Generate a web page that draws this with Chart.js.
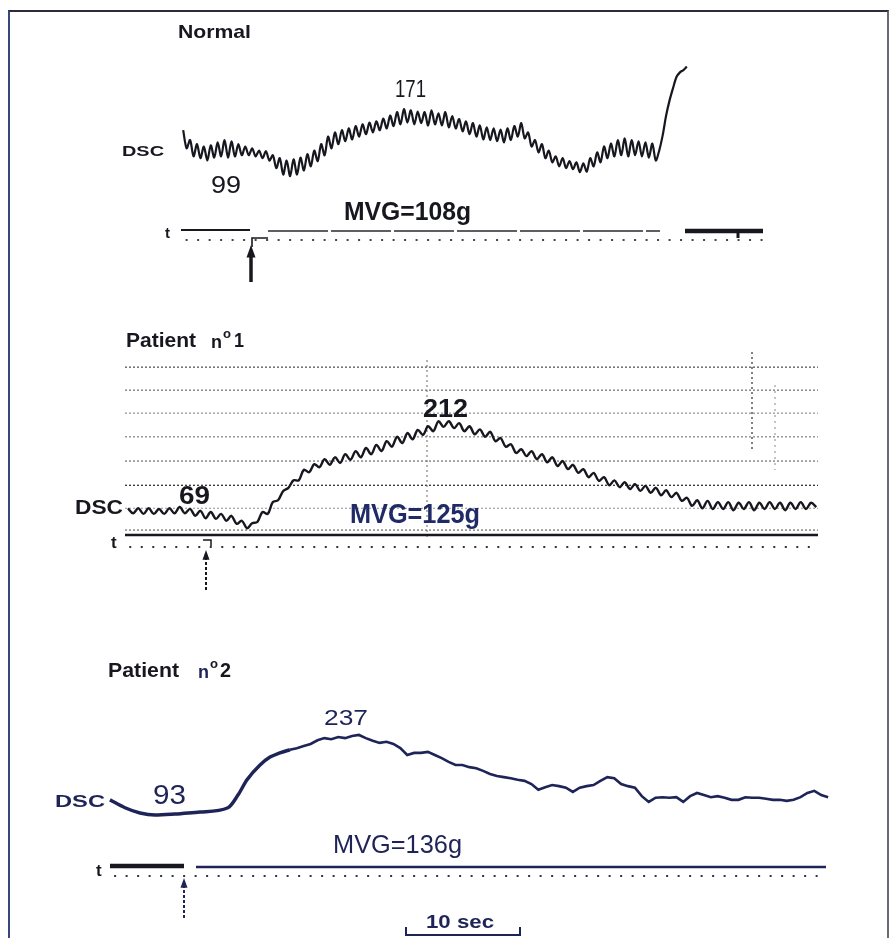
<!DOCTYPE html>
<html>
<head>
<meta charset="utf-8">
<script src="https://cdn.jsdelivr.net/npm/chart.js@4.4.1/dist/chart.umd.min.js"></script>
<style>
  body { margin: 0; background: #fff; width: 890px; height: 938px; position: relative; overflow: hidden; }
  canvas { position: absolute; left: 0; }
  #frame { position: absolute; left: 8px; top: 10px; width: 877px; height: 960px;
           border-top: 2px solid #2b2c40; border-left: 2px solid #3a4680; border-right: 2px solid #6a6a70; }
</style>
</head>
<body>
<div id="frame"></div>
<canvas id="normal" width="890" height="300" style="top:0px"></canvas>
<canvas id="patient1" width="890" height="320" style="top:300px"></canvas>
<canvas id="patient2" width="890" height="318" style="top:620px"></canvas>
<script>
// DSC precordial counts, sampled at a fixed step (seconds from injection)
const normalStart = -5.9;
const normalStep = 0.3;
const normalDSC = [
  137, 106, 120, 92, 113, 89, 109, 85, 111, 90,
  116, 92, 120, 90, 118, 92, 113, 94, 109, 94,
  106, 92, 102, 89, 101, 85, 94, 72, 89, 61,
  85, 58, 87, 61, 90, 68, 96, 75, 102, 84,
  113, 94, 126, 106, 133, 113, 137, 118, 140, 121,
  144, 126, 147, 130, 150, 133, 152, 137, 157, 140,
  162, 144, 168, 147, 173, 150, 171, 147, 169, 149,
  168, 145, 171, 147, 166, 145, 168, 142, 161, 140,
  156, 135, 152, 130, 149, 126, 145, 121, 142, 120,
  140, 118, 138, 116, 140, 120, 144, 126, 149, 123,
  133, 109, 120, 99, 113, 89, 102, 82, 92, 75,
  89, 72, 84, 70, 82, 65, 80, 66, 89, 75,
  99, 82, 109, 89, 114, 92, 120, 94, 123, 92,
  120, 94, 118, 92, 116, 90, 114, 85, 102, 128,
  162, 188, 209, 228, 236, 240, 246
];

const p1Start = -6.7;
const p1Step = 0.45;
const p1DSC = [
  75, 67, 75, 66, 75, 66, 74, 66, 75, 67,
  77, 67, 74, 63, 71, 59, 69, 58, 66, 55,
  63, 50, 55, 43, 51, 53, 69, 66, 85, 88,
  103, 108, 120, 120, 137, 133, 146, 141, 154, 145,
  157, 148, 162, 153, 167, 157, 172, 162, 177, 167,
  183, 174, 190, 180, 196, 186, 201, 193, 207, 199,
  215, 206, 215, 204, 212, 199, 207, 194, 202, 190,
  198, 183, 188, 174, 178, 164, 170, 159, 167, 154,
  162, 149, 157, 143, 151, 138, 145, 132, 138, 125,
  132, 119, 125, 112, 120, 109, 117, 106, 114, 103,
  111, 100, 108, 96, 104, 93, 100, 87, 92, 79,
  88, 75, 87, 74, 85, 74, 85, 72, 84, 74,
  85, 72, 84, 74, 85, 74, 84, 72, 84, 74,
  85, 74, 84, 77
];
// recorder grid levels of patient 1 strip (counts)
const p1GridLevels = [302, 265, 228, 190, 151, 112, 75, 40];

// patient 2: hand-retouched start of the curve, then the recorded part
const p2LeadTimes = [-6.35, -5.04, -3.74, -2.43, -0.7, 1.48, 3.91, 4.78, 5.57, 6.7, 7.57, 8.43, 9.3];
const p2LeadDSC = [116, 101, 91, 87, 89, 93, 101, 125, 154, 182, 197, 205, 211];
const p2Start = 9.3;
const p2Step = 0.6;
const p2DSC = [
  211, 214, 218, 222, 229, 233, 231, 235, 233, 237,
  239, 233, 228, 224, 226, 222, 214, 201, 205, 205,
  207, 201, 195, 188, 182, 182, 178, 176, 171, 165,
  161, 159, 157, 154, 152, 146, 135, 140, 144, 142,
  139, 131, 139, 142, 144, 152, 159, 157, 146, 142,
  139, 123, 112, 120, 121, 120, 121, 112, 123, 129,
  125, 121, 123, 120, 116, 116, 121, 120, 120, 118,
  116, 116, 114, 116, 121, 129, 133, 125, 121
];

const INK = "#17171f";
const NAVY = "#1e2457";
const SANS = "'Liberation Sans', Arial, sans-serif";

function series(start, step, values) {
  return values.map((v, i) => ({ x: start + i * step, y: v }));
}

// draws text squeezed to the given width (the figure uses a condensed face)
function fitText(ctx, str, left, cy, width, font, color) {
  ctx.save();
  ctx.font = font;
  ctx.fillStyle = color || INK;
  ctx.textBaseline = "middle";
  const w = ctx.measureText(str).width;
  ctx.translate(left, cy);
  if (width) ctx.scale(width / w, 1);
  ctx.fillText(str, 0, 0);
  ctx.restore();
}

function line(ctx, pts, width, color, dash) {
  ctx.save();
  ctx.strokeStyle = color || INK;
  ctx.lineWidth = width;
  ctx.setLineDash(dash || []);
  ctx.beginPath();
  pts.forEach((p, i) => (i ? ctx.lineTo(p[0], p[1]) : ctx.moveTo(p[0], p[1])));
  ctx.stroke();
  ctx.restore();
}

function timeDots(ctx, xScale, from, count, y, color) {
  ctx.save();
  ctx.fillStyle = color || "#333";
  for (let k = 0; k < count; k++) {
    const px = xScale.getPixelForValue(from + k);
    ctx.fillRect(px - 1, y - 1, 2, 2);
  }
  ctx.restore();
}

function arrowUp(ctx, x, tip, bottom, shaft, head, color, dash) {
  line(ctx, [[x, bottom], [x, tip + head * 1.3]], shaft, color, dash);
  ctx.save();
  ctx.fillStyle = color || INK;
  ctx.beginPath();
  ctx.moveTo(x, tip);
  ctx.lineTo(x - head / 2, tip + head * 1.4);
  ctx.lineTo(x + head / 2, tip + head * 1.4);
  ctx.closePath();
  ctx.fill();
  ctx.restore();
}

function makeChart(id, datasets, xr, yr, pad, before, after) {
  return new Chart(document.getElementById(id), {
    type: "line",
    data: { datasets },
    options: {
      responsive: false,
      animation: false,
      layout: { padding: { left: pad[0], right: pad[1], top: 0, bottom: 0 } },
      plugins: { legend: { display: false }, tooltip: { enabled: false } },
      elements: { point: { radius: 0 } },
      scales: {
        x: { type: "linear", display: false, min: xr[0], max: xr[1] },
        y: { display: false, min: yr[0], max: yr[1] }
      }
    },
    plugins: [{
      id: "deco",
      beforeDatasetsDraw(chart) { if (before) before(chart.ctx, chart.scales.x, chart.scales.y); },
      afterDatasetsDraw(chart) { if (after) after(chart.ctx, chart.scales.x, chart.scales.y); }
    }]
  });
}

// ---- Normal ----
makeChart("normal",
  [{ data: series(normalStart, normalStep, normalDSC), borderColor: INK, borderWidth: 2.2, tension: 0.3 }],
  [-21.83, 55.57], [-154, 360], [0, 0], null,
  (ctx, X) => {
    fitText(ctx, "Normal", 178, 33, 73, "bold 19px " + SANS);
    fitText(ctx, "DSC", 122, 152, 42, "bold 15px " + SANS);
    fitText(ctx, "99", 211, 186, 30, "24px " + SANS);
    fitText(ctx, "171", 395, 91, 31, "23px " + SANS);
    fitText(ctx, "MVG=108g", 344, 213, 127, "bold 25px " + SANS);
    fitText(ctx, "t", 165, 234, 0, "bold 15px " + SANS);
    line(ctx, [[181, 230], [250, 230]], 2);
    line(ctx, [[268, 231], [660, 231]], 1.6, "#2a2a33", [60, 3]);
    line(ctx, [[685, 231], [763, 231]], 4.5);
    line(ctx, [[738, 231], [738, 238]], 3);
    timeDots(ctx, X, -5.6, 51, 240, "#444");
    line(ctx, [[252, 247], [252, 238], [268, 238]], 1.6);
    arrowUp(ctx, 251, 245, 282, 3.5, 9);
  });

// ---- Patient 1 ----
makeChart("patient1",
  [{ data: series(p1Start, p1Step, p1DSC), borderColor: INK, borderWidth: 2.4, tension: 0.35 }],
  [-6.957, 53.3], [-104.6, 410], [125, 72],
  (ctx, X, Y) => {
    const shades = ["#555", "#777", "#999", "#888", "#777", "#333", "#aaa", "#777"];
    p1GridLevels.forEach((v, i) => {
      const y = Y.getPixelForValue(v);
      line(ctx, [[125, y], [818, y]], 1.3, shades[i], [2, 2]);
    });
    line(ctx, [[427, 60], [427, 240]], 1, "#666", [2, 3]);
    line(ctx, [[752, 52], [752, 152]], 1.5, "#555", [2, 3]);
    line(ctx, [[775, 85], [775, 170]], 1, "#888", [2, 4]);
  },
  (ctx, X) => {
    fitText(ctx, "Patient", 126, 41, 70, "bold 20px " + SANS);
    fitText(ctx, "n", 211, 43, 11, "bold 19px " + SANS);
    fitText(ctx, "o", 223, 35, 8, "bold 12px " + SANS);
    fitText(ctx, "1", 234, 41, 10, "bold 20px " + SANS);
    fitText(ctx, "DSC", 75, 208, 48, "bold 21px " + SANS);
    fitText(ctx, "69", 179, 197, 31, "bold 25px " + SANS);
    fitText(ctx, "212", 423, 110, 45, "bold 25px " + SANS);
    fitText(ctx, "MVG=125g", 350, 216, 130, "bold 27px " + SANS, "#1f2a66");
    fitText(ctx, "t", 111, 243, 0, "bold 17px " + SANS);
    line(ctx, [[125, 235], [818, 235]], 2.5);
    timeDots(ctx, X, -6.5, 60, 247, "#333");
    line(ctx, [[203, 240], [211, 240], [211, 246]], 1.5);
    arrowUp(ctx, 206, 250, 290, 2, 7, INK, [3, 2]);
  });

// ---- Patient 2 ----
makeChart("patient2",
  [
    { data: p2LeadTimes.map((t, i) => ({ x: t, y: p2LeadDSC[i] })), borderColor: NAVY,
      borderWidth: 3.5, cubicInterpolationMode: "monotone" },
    { data: series(p2Start, p2Step, p2DSC), borderColor: NAVY, borderWidth: 2.6, tension: 0 }
  ],
  [-15.91, 61.48], [-146, 457], [0, 0], null,
  (ctx, X) => {
    fitText(ctx, "Patient", 108, 51, 71, "bold 20px " + SANS);
    fitText(ctx, "n", 198, 53, 11, "bold 19px " + SANS, NAVY);
    fitText(ctx, "o", 210, 45, 8, "bold 12px " + SANS);
    fitText(ctx, "2", 220, 51, 11, "bold 20px " + SANS);
    fitText(ctx, "237", 324, 99, 44, "22px " + SANS, NAVY);
    fitText(ctx, "DSC", 55, 182, 50, "bold 17px " + SANS, NAVY);
    fitText(ctx, "93", 153, 177, 33, "27px " + SANS, NAVY);
    fitText(ctx, "MVG=136g", 333, 226, 129, "25px " + SANS, NAVY);
    fitText(ctx, "t", 96, 251, 0, "bold 17px " + SANS);
    line(ctx, [[110, 246], [184, 246]], 4.5, INK);
    line(ctx, [[196, 247], [826, 247]], 2.5, NAVY);
    timeDots(ctx, X, -5.9, 62, 256, "#334");
    arrowUp(ctx, 184, 258, 298, 2, 7, NAVY, [3, 2]);
    fitText(ctx, "10 sec", 426, 303, 68, "bold 19px " + SANS, NAVY);
    line(ctx, [[406, 307], [406, 315], [520, 315], [520, 307]], 2, NAVY);
  });
</script>
</body>
</html>
